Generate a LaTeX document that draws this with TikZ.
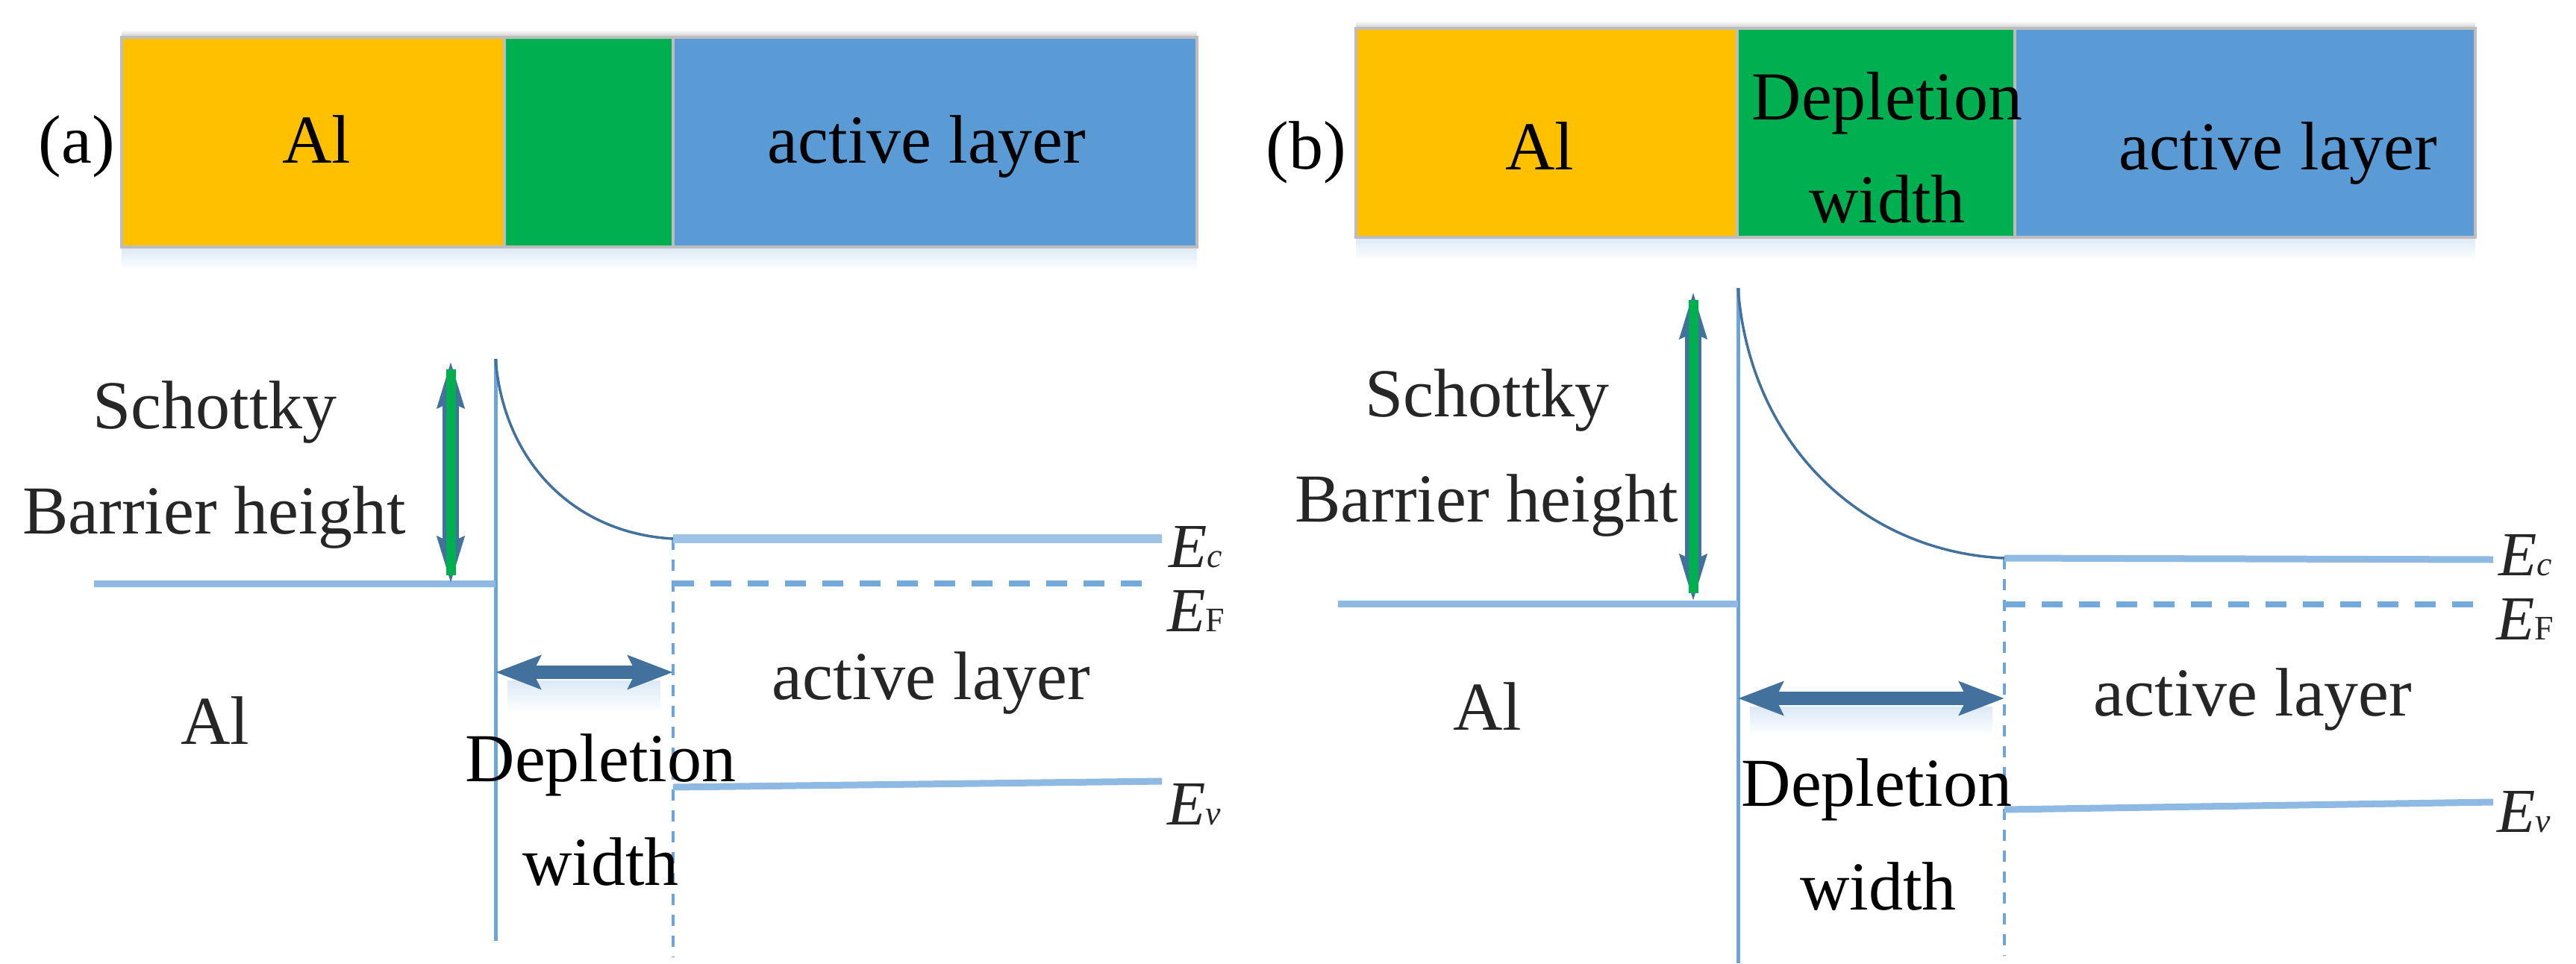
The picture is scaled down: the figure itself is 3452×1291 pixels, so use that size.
\documentclass[tikz,border=0pt]{standalone}
\usepackage{fontspec}
\setmainfont{Liberation Serif}
\usetikzlibrary{positioning,arrows.meta}
\definecolor{metalcol}{HTML}{FFC000}
\definecolor{depcol}{HTML}{00B050}
\definecolor{activecol}{HTML}{5B9BD5}
\definecolor{edgecol}{HTML}{BDBDBD}
\definecolor{levelcol}{HTML}{8DB9E3}
\definecolor{arrowcol}{HTML}{41719C}
\definecolor{textcol}{HTML}{262626}
\newcommand{\subsize}{\fontsize{46}{50}\selectfont}
\begin{document}
\begin{tikzpicture}[
			x=1pt, y=-1pt,
			barnode/.style={rectangle, draw=edgecol, line width=4pt, inner sep=0pt, outer sep=0pt, minimum height=#1},
			lbl/.style={anchor=base, inner sep=0pt, font=\fontsize{92}{100}\selectfont},
			bandlbl/.style={lbl, text=textcol},
			enlbl/.style={anchor=base west, inner sep=0pt, text=textcol, font=\fontsize{84}{90}\selectfont\itshape},
			bandlevel/.style={draw=levelcol, line width=9pt},
			fermi/.style={draw=activecol!85, line width=8pt, dash pattern=on 28pt off 22pt},
			edgeline/.style={draw=activecol!90, line width=5pt},
			dotline/.style={draw=activecol!90, line width=4pt, dash pattern=on 15pt off 13pt},
			bandcurve/.style={draw=arrowcol, line width=3.5pt},
			barrier/.style={draw=arrowcol, line width=22pt,
				{Stealth[length=62pt, width=34pt, inset=6pt, fill=depcol]}-{Stealth[length=62pt, width=34pt, inset=6pt, fill=depcol]},
				postaction={draw=depcol, line width=13pt, -, shorten >=12pt, shorten <=12pt}},
			widtharrow/.style={draw=arrowcol, line width=18pt,
				{Stealth[length=60pt, width=44pt, inset=10pt]}-{Stealth[length=60pt, width=44pt, inset=10pt]}},
			glow/.style={top color=activecol!22, bottom color=white, draw=none},
			rim/.style={top color=white, bottom color=edgecol!80, draw=none},
			]
			\useasboundingbox (0,0) rectangle (3452,1291);

			%Shadows
			\shade[glow] (163,331) rectangle (1604,362);
			\shade[glow] (1817,318) rectangle (3317,348);
			\shade[glow] (680,912) rectangle (885,955);
			\shade[glow] (2345,947) rectangle (2670,985);
			\shade[rim] (163,40) rectangle (1604,50);
			\shade[rim] (1817,28) rectangle (3317,38);

			%Bars
			\node[barnode=281pt, fill=metalcol, minimum width=513pt] (alA) at (419.5,190.5) {};
			\node[barnode=281pt, fill=depcol, minimum width=226pt] (depA) [right=0pt of alA] {};
			\node[barnode=281pt, fill=activecol, minimum width=702pt] (actA) [right=0pt of depA] {};

			\node[barnode=280pt, fill=metalcol, minimum width=511pt] (alB) at (2072.5,178) {};
			\node[barnode=280pt, fill=depcol, minimum width=372pt] (depB) [right=0pt of alB] {};
			\node[barnode=280pt, fill=activecol, minimum width=617pt] (actB) [right=0pt of depB] {};

			%Bar labels
			\node[lbl] (tagA) at (103,218) {(a)};
			\node[lbl] (alAlbl) at (424,218) {Al};
			\node[lbl] (actAlbl) at (1242,218) {active layer};
			\node[lbl] (tagB) at (1750,226) {(b)};
			\node[lbl] (alBlbl) at (2063,227) {Al};
			\node[lbl] (depBlbl) at (2529,160) {Depletion};
			\node[lbl] (widBlbl) at (2529,298) {width};
			\node[lbl] (actBlbl) at (3053,227) {active layer};

			%Band points (a)
			\coordinate (topA) at (664,481);
			\coordinate (footA) at (664,1261);
			\coordinate (metalA) at (126,782);
			\coordinate (fermiA) at (664,782);
			\coordinate (capA) at (604,483);
			\coordinate (kneeA) at (902,722);
			\coordinate (endcA) at (1557,722);
			\coordinate (startfA) at (902,782);
			\coordinate (endfA) at (1535,782);
			\coordinate (startvA) at (902,1055);
			\coordinate (endvA) at (1557,1047);
			\coordinate (dropA) at (902,1283);
			\coordinate (baseA) at (604,783);
			\coordinate (depLA) at (664,901);
			\coordinate (depRA) at (902,901);

			%Band points (b)
			\coordinate (topB) at (2329,386);
			\coordinate (footB) at (2329,1291);
			\coordinate (metalB) at (1793,809);
			\coordinate (fermiB) at (2329,809);
			\coordinate (capB) at (2269,390);
			\coordinate (kneeB) at (2686,748);
			\coordinate (endcB) at (3341,750);
			\coordinate (startfB) at (2686,810);
			\coordinate (endfB) at (3319,810);
			\coordinate (startvB) at (2686,1085);
			\coordinate (endvB) at (3341,1075);
			\coordinate (dropB) at (2686,1281);
			\coordinate (baseB) at (2269,807);
			\coordinate (depLB) at (2329,936);
			\coordinate (depRB) at (2686,936);

			%Lines (a)
			\draw[edgeline] (topA) -- (footA);
			\draw[bandlevel] (metalA) -- (fermiA);
			\draw[dotline] (kneeA) -- (dropA);
			\draw[bandlevel, line width=12pt, draw=levelcol!85] (kneeA) -- (endcA);
			\draw[fermi] (startfA) -- (endfA);
			\draw[bandlevel] (startvA) -- (endvA);
			\draw[bandcurve] (topA) .. controls (675,620) and (770,715) .. (kneeA);
			\draw[barrier] (capA) -- (baseA);
			\draw[widtharrow] (depLA) -- (depRA);

			%Lines (b)
			\draw[edgeline] (topB) -- (footB);
			\draw[bandlevel] (metalB) -- (fermiB);
			\draw[dotline] (kneeB) -- (dropB);
			\draw[bandlevel] (kneeB) -- (endcB);
			\draw[fermi] (startfB) -- (endfB);
			\draw[bandlevel] (startvB) -- (endvB);
			\draw[bandcurve] (topB) .. controls (2345,600) and (2500,740) .. (kneeB);
			\draw[barrier] (capB) -- (baseB);
			\draw[widtharrow] (depLB) -- (depRB);

			%Band labels (a)
			\node[bandlbl] (schA) at (288,574) {Schottky};
			\node[bandlbl] (barA) at (287,715) {Barrier height};
			\node[bandlbl] (metA) at (288,997) {Al};
			\node[bandlbl] (layA) at (1248,937) {active layer};
			\node[lbl] (depA2) at (805,1047) {Depletion};
			\node[lbl] (widA2) at (805,1186) {width};
			\node[enlbl] (ecA) at (1566,760) {E{\subsize c}};
			\node[enlbl] (efA) at (1564,846) {E{\subsize\upshape F}};
			\node[enlbl] (evA) at (1564,1105) {E{\subsize v}};

			%Band labels (b)
			\node[bandlbl] (schB) at (1993,558) {Schottky};
			\node[bandlbl] (barB) at (1992,699) {Barrier height};
			\node[bandlbl] (metB) at (1993,978) {Al};
			\node[bandlbl] (layB) at (3019,959) {active layer};
			\node[lbl] (depB2) at (2515,1080) {Depletion};
			\node[lbl] (widB2) at (2517,1219) {width};
			\node[enlbl] (ecB) at (3348,771) {E{\subsize c}};
			\node[enlbl] (efB) at (3345,857) {E{\subsize\upshape F}};
			\node[enlbl] (evB) at (3346,1115) {E{\subsize v}};
		\end{tikzpicture}
\end{document}
